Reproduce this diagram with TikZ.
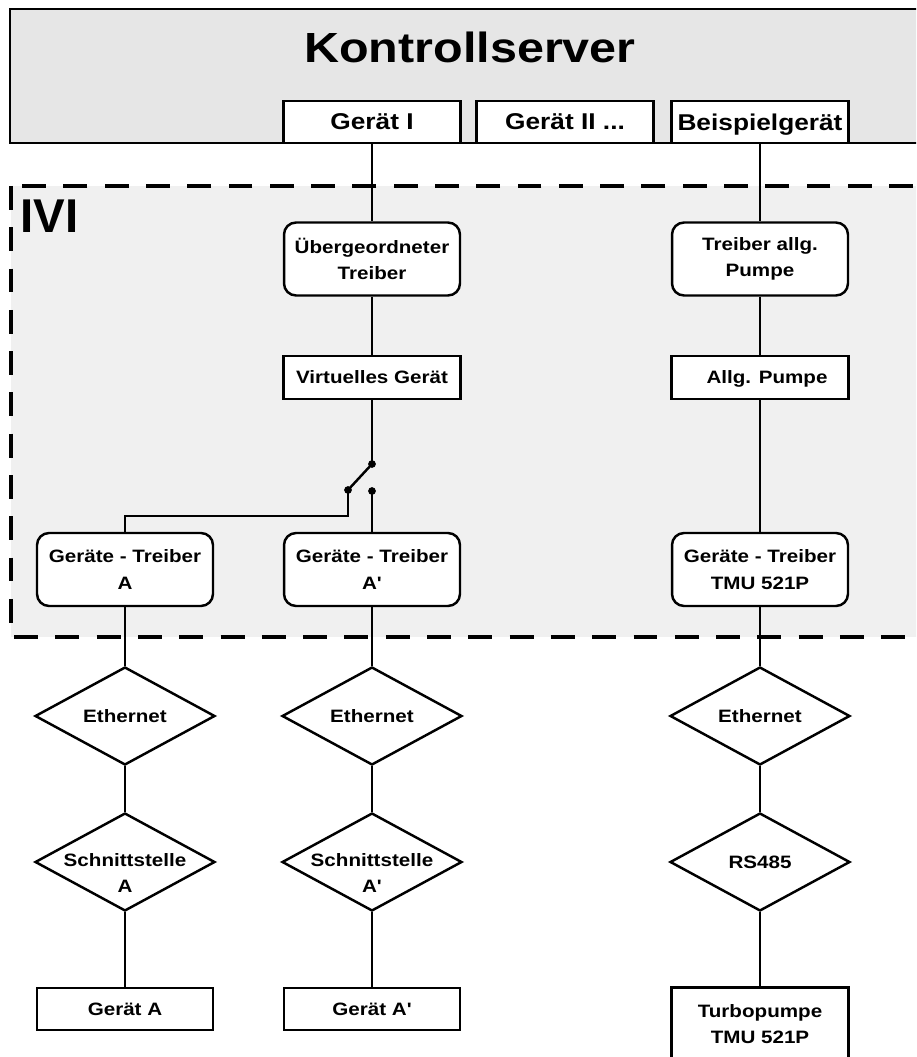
\documentclass[tikz,border=0pt]{standalone}
\usepackage{fontspec}
\setmainfont{Liberation Sans}
\newfontfamily\lblfont[FakeStretch=1.15]{Liberation Sans}
\usepackage{tikz}
\usetikzlibrary{shapes.geometric}
\definecolor{serverfill}{HTML}{E6E6E6}
\definecolor{ivifill}{HTML}{F0F0F0}

\begin{document}
\begin{tikzpicture}[
  x=0.02cm, y=-0.02cm,
  topbox/.style={draw, line width=1.3pt, fill=white, minimum width=3.54cm, minimum height=0.84cm, text depth=0pt, font=\lblfont\bfseries\fontsize{13}{15}\selectfont},
  treiber/.style={draw, line width=1.4pt, fill=white, rounded corners=0.24cm, align=center, minimum width=3.52cm, minimum height=1.46cm, font=\lblfont\bfseries\fontsize{10.2}{15}\selectfont},
  plain/.style={draw, line width=1.4pt, fill=white, minimum width=3.54cm, minimum height=0.86cm, text depth=0pt, align=center, font=\lblfont\bfseries\fontsize{10.2}{15}\selectfont},
  netz/.style={draw, diamond, line width=1.4pt, fill=white, minimum width=3.6cm, minimum height=1.96cm, aspect=1.84, inner xsep=-0.2cm, inner ysep=0pt, align=center, font=\lblfont\bfseries\fontsize{10.2}{15}\selectfont},
  netzzwei/.style={netz, text height=35pt, inner ysep=-0.25cm},
  conn/.style={line width=1.4pt},
  dot/.style={fill=black}
]
\useasboundingbox (0,0) rectangle (916,1057);
\clip (0,0) rectangle (916,1057);

% Kontrollserver und IVI-Bereich
\draw[line width=1.4pt, fill=serverfill] (10,9) rectangle (940,143);
\node[font=\lblfont\bfseries\fontsize{24}{28}\selectfont] (ks) at (470,47.5) {Kontrollserver};
\draw[line width=2.3pt, dash pattern=on 13.6pt off 9.9pt, fill=ivifill] (11,186) rectangle (940,637);
\node[anchor=base west, inner sep=0pt, font=\bfseries\fontsize{27}{30}\selectfont] (ivi) at (20,233) {IVI};

% Geraete im Kontrollserver
\node[topbox] (g1) at (372,122) {Gerät I};
\node[topbox] (g2) at (565,122) {Gerät II ...};
\node[topbox] (bsp) at (760,122) {Beispielgerät};

% linke Seite
\node[treiber] (ueber) at (372,259) {Übergeordneter\\Treiber};
\node[plain] (virt) at (372,377.5) {Virtuelles Gerät};
\node[treiber] (trA) at (125,569.5) {Geräte - Treiber\\A};
\node[treiber] (trA2) at (372,569.5) {Geräte - Treiber\\A'};
\node[netz] (ethA) at (125,716) {Ethernet};
\node[netz] (ethA2) at (372,716) {Ethernet};
\node[netzzwei] (sA) at (125,862) {Schnittstelle\\A};
\node[netzzwei] (sA2) at (372,862) {Schnittstelle\\A'};
\node[plain, minimum width=3.52cm, minimum height=0.84cm] (gA) at (125,1009) {Gerät A};
\node[plain, minimum width=3.52cm, minimum height=0.84cm] (gA2) at (372,1009) {Gerät A'};

% rechte Seite
\node[treiber] (tpumpe) at (760,259) {Treiber allg.\\Pumpe};
\node[plain] (pumpe) at (760,377.5) {\hspace*{0.28cm}Allg. Pumpe};
\node[treiber] (trTMU) at (760,569.5) {Geräte - Treiber\\TMU 521P};
\node[netz] (ethT) at (760,716) {Ethernet};
\node[netz] (rs) at (760,862) {RS485};
\node[plain, line width=1.7pt, minimum width=3.54cm, minimum height=1.48cm] (turbo) at (760,1024) {Turbopumpe\\TMU 521P};

% Schalter
\coordinate (sw1) at (372,464);
\coordinate (sw2) at (348,490);
\coordinate (sw3) at (372,491);

% Verbindungen
\draw[conn] (g1) -- (ueber);
\draw[conn] (ueber) -- (virt);
\draw[conn] (virt) -- (sw1);
\draw[conn] (sw1) -- (sw2);
\draw[conn] (sw2) -- ++(0,26) -| (trA.north);
\draw[conn] (sw3) -- (trA2);
\draw[conn] (trA) -- (ethA);
\draw[conn] (ethA) -- (sA);
\draw[conn] (sA) -- (gA);
\draw[conn] (trA2) -- (ethA2);
\draw[conn] (ethA2) -- (sA2);
\draw[conn] (sA2) -- (gA2);
\draw[conn] (bsp) -- (tpumpe);
\draw[conn] (tpumpe) -- (pumpe);
\draw[conn] (pumpe) -- (trTMU);
\draw[conn] (trTMU) -- (ethT);
\draw[conn] (ethT) -- (rs);
\draw[conn] (rs) -- (turbo);
\foreach \p in {sw1,sw2,sw3}
  \fill[dot] (\p) circle[radius=2.2pt];
\end{tikzpicture}
\end{document}
